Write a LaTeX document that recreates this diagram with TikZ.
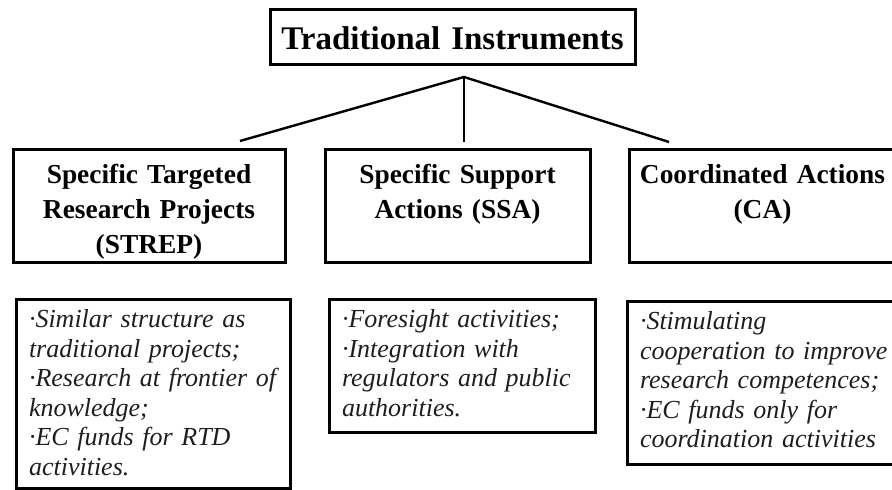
\documentclass[tikz,border=0pt]{standalone}
\usepackage{fontspec}
\setmainfont{Liberation Serif}
\usetikzlibrary{positioning}
\definecolor{notegrey}{RGB}{30,30,30}
\tikzset{
  headbox/.style={draw,line width=1.5pt,anchor=north west,inner xsep=0pt,
    inner ysep=0pt,outer sep=0pt,align=center,
    font=\fontsize{16.5}{20}\selectfont\bfseries},
  kindbox/.style={draw,line width=1.5pt,inner xsep=0pt,inner ysep=0pt,
    outer sep=0pt,align=center,text height=17pt,text depth=39.5pt,
    font=\fontsize{13.7}{17.5}\selectfont\bfseries},
  notebox/.style={draw,line width=1.5pt,inner xsep=6.5pt,inner ysep=0pt,
    outer sep=0pt,align=left,text height=14pt,text=notegrey,
    font=\fontsize{13}{14.75}\selectfont\itshape},
  branch/.style={line width=1.2pt}
}

\begin{document}
\begin{tikzpicture}[x=0.5pt,y=-0.5pt]
  \useasboundingbox (0,0) rectangle (892,490);
  \node[headbox,text width=182.5pt,text height=20pt,text depth=7.5pt] (title)
    at (270,10) {Traditional Instruments};
  % the three instruments
  \node[kindbox,text width=136pt,anchor=north west] (strep) at (13,150)
    {Specific Targeted\\Research Projects\\(STREP)};
  \node[kindbox,text width=132.5pt,right=20pt of strep.north east,
    anchor=north west] (ssa) {Specific Support\\Actions (SSA)};
  \node[kindbox,text width=133.5pt,right=19.5pt of ssa.north east,
    anchor=north west] (ca) {Coordinated Actions\\(CA)};
  % what each one covers
  \node[notebox,text width=124pt,text depth=80pt,
    below=18.5pt of strep.south west,anchor=north west,xshift=1.5pt] (strepnote)
    {·Similar structure as\\traditional projects;\\·Research at frontier of\\
    knowledge;\\·EC funds for RTD\\activities.};
  \node[notebox,text width=120pt,text depth=52.5pt,
    below=18.5pt of ssa.south west,anchor=north west,xshift=2pt] (ssanote)
    {·Foresight activities;\\·Integration with\\regulators and public\\
    authorities.};
  \node[notebox,text width=127pt,text depth=67.5pt,
    below=19.5pt of ca.south west,anchor=north west,xshift=-1pt] (canote)
    {·Stimulating\\cooperation to improve\\research competences;\\
    ·EC funds only for\\coordination activities};
  % fork
  \coordinate (fork) at (464,77);
  \coordinate (streptip) at (240,141);
  \coordinate (ssatip) at (464,142);
  \coordinate (catip) at (669,142);
  \draw[branch] (streptip) -- (fork) -- (catip);
  \draw[branch] (fork) -- (ssatip);
\end{tikzpicture}
\end{document}
